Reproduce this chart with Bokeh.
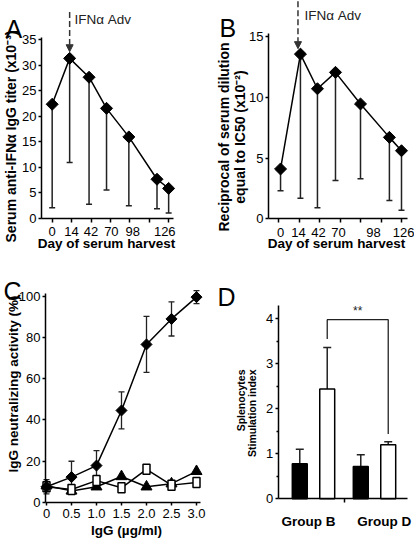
import math
from bokeh.plotting import figure
from bokeh.layouts import column, row
from bokeh.models import (ColumnDataSource, Range1d, FixedTicker, Whisker, TeeHead,
                          Label, Arrow, NormalHead)
from bokeh.embed import file_html
from bokeh.resources import INLINE

FONT = "Liberation Sans"

# ---------------- data ----------------
# Panel A: serum anti-IFNa IgG titer (x10^-3)
a_slot = [0, 0.9, 1.9, 2.8, 3.95, 5.4, 6.0]
a_titer = [22.3, 31.3, 27.6, 21.5, 15.9, 7.6, 5.8]
a_lower = [2.0, 10.9, 2.7, 5.5, 2.4, 1.8, 1.0]
day_labels = ["0", "14", "42", "70", "98", "126"]
a_label_slot = [0.0, 1.0, 2.0, 3.05, 4.15, 5.8]
a_arrow = dict(x=0.9, start=40.4, end=32.6)

# Panel B: reciprocal of serum dilution equal to IC50 (x10^-2)
b_slot = [0.1, 1.07, 1.9, 2.78, 4.0, 5.41, 6.0]
b_recip = [4.1, 13.55, 10.7, 12.05, 9.45, 6.7, 5.6]
b_lower = [2.3, 1.7, 0.9, 3.15, 3.3, 1.5, 0.7]
b_label_slot = [0.1, 0.98, 1.95, 2.93, 4.63, 6.1]
b_arrow = dict(x=0.95, start=17.9, end=14.0)

axis_slots = [0, 1, 2, 3, 4, 5, 6]

# Panel C: IgG neutralizing activity (%)
c_igg = [0, 0.5, 1.0, 1.5, 2.0, 2.5, 3.0]
c_tick_labels = ["0", "0.5", "1.0", "1.5", "2.0", "2.5", "3.0"]
c_diamond = [7.5, 12.2, 17.8, 44.6, 76.7, 89.1, 99.7]
c_diamond_err = [3.5, 7.7, 7.3, 9.0, 13.6, 8.3, 3.2]
c_triangle = [8.0, 5.5, 7.5, 12.5, 7.5, 9.0, 15.0]
c_square = [7.5, 6.2, 10.5, 7.0, 16.0, 8.3, 9.6]

# Panel D: splenocytes stimulation index
d_groups = ["Group B", "Group D"]
d_group_center = [0.0, 1.0]
d_group_label_pos = [-0.08, 1.16]
d_offsets = [-0.225, 0.225]
d_black = [0.78, 0.72]
d_black_err = [1.10, 0.98]
d_white = [2.44, 1.20]
d_white_err = [3.36, 1.27]
d_bracket_top = 3.98
d_bracket_left_bottom = 3.55
d_bracket_right_bottom = 1.44


def panel(w, h, origin, xmap, ymap):
    """Figure whose frame fills the canvas; xmap/ymap give two (data, page-pixel) pairs."""
    ox, oy = origin
    (xa, pxa), (xb, pxb) = xmap
    (ya, pya), (yb, pyb) = ymap
    sx = (xb - xa) / (pxb - pxa)
    sy = (yb - ya) / (pyb - pya)

    def at(px, py):
        return xa + (px - pxa) * sx, ya + (py - pya) * sy

    x0, ytop = at(ox, oy)
    x1, ybot = at(ox + w, oy + h)
    p = figure(width=w, height=h, x_range=Range1d(x0, x1), y_range=Range1d(ybot, ytop),
               output_backend="svg", toolbar_location=None, tools="", min_border=0)
    p.outline_line_color = None
    p.grid.grid_line_color = None
    for ax in p.axis:
        ax.axis_line_width = 1.5
        ax.axis_line_color = "black"
        ax.major_tick_line_width = 1.5
        ax.major_tick_line_color = "black"
        ax.minor_tick_line_width = 1.5
        ax.minor_tick_line_color = "black"
        ax.major_tick_in = 0
        ax.major_tick_out = 3
        ax.minor_tick_in = 0
        ax.minor_tick_out = 0
        ax.major_label_text_font = FONT
        ax.major_label_text_font_size = "13px"
        ax.major_label_text_color = "black"
        ax.major_label_standoff = 2
    return p, at


def text(p, at, px, py, s, size="13.5px", bold=True, angle=0.0, align="center",
         baseline="middle", color="black"):
    x, y = at(px, py)
    p.add_layout(Label(x=x, y=y, text=s, angle=angle, text_font=FONT, text_font_size=size,
                       text_font_style="bold" if bold else "normal", text_align=align,
                       text_baseline=baseline, text_color=color))


def axes_at(p, xloc, yloc, xbounds, ybounds):
    p.yaxis.fixed_location = xloc
    p.xaxis.fixed_location = yloc
    p.xaxis.bounds = xbounds
    p.yaxis.bounds = ybounds


def diamonds(p, x, y, src, size):
    p.scatter(x, y, source=src, marker="square", angle=math.pi / 4, size=size,
              fill_color="black", line_color="black")


def time_series(p, slots, vals, lowers, label_slots, arrow):
    p.xaxis.ticker = FixedTicker(ticks=label_slots, minor_ticks=axis_slots)
    p.xaxis.major_label_overrides = {float(s): l for s, l in zip(label_slots, day_labels)}
    p.xaxis.major_tick_out = 0
    p.xaxis.minor_tick_out = 4
    p.xaxis.major_label_standoff = 5
    src = ColumnDataSource(dict(x=slots, y=vals, lo=lowers))
    p.add_layout(Whisker(base="x", upper="y", lower="lo", source=src, dimension="height",
                         line_color="#222222", line_width=1.5, upper_head=None,
                         lower_head=TeeHead(size=6, line_color="#222222", line_width=1.5)))
    p.line("x", "y", source=src, line_color="black", line_width=1.5)
    diamonds(p, "x", "y", src, 8.5)
    p.add_layout(Arrow(x_start=arrow["x"], y_start=arrow["start"], x_end=arrow["x"],
                       y_end=arrow["end"], line_dash="6 3", line_width=1.5,
                       line_color="#333333",
                       end=NormalHead(size=7, fill_color="#333333", line_color="#333333")))


UP = math.pi / 2

# ---------------- Panel A ----------------
pa, at_a = panel(207, 270, (0, 0), [(-0.55, 41), (6.25, 173)], [(0, 217.5), (35, 39)])
axes_at(pa, -0.55, 0, (-0.55, 6.25), (0, 35.3))
pa.yaxis.ticker = FixedTicker(ticks=[0, 5, 10, 15, 20, 25, 30, 35])
time_series(pa, a_slot, a_titer, a_lower, a_label_slot, a_arrow)
text(pa, at_a, 5, 28, "A", size="25px", bold=False, align="left", baseline="alphabetic")
text(pa, at_a, 74, 19, "IFN\u03b1 Adv", bold=False, align="left", color="#222222")
text(pa, at_a, 10.5, 136, "Serum anti-IFN\u03b1 IgG titer (x10\u207b\u00b3)", size="14px",
     angle=UP)
text(pa, at_a, 106, 243, "Day of serum harvest")

# ---------------- Panel B ----------------
pb, at_b = panel(207, 270, (207, 0), [(0, 278), (6, 401)], [(0, 218.3), (15, 36)])
axes_at(pb, -0.49, 0, (-0.49, 6.3), (0, 15.25))
pb.yaxis.ticker = FixedTicker(ticks=[0, 5, 10, 15])
time_series(pb, b_slot, b_recip, b_lower, b_label_slot, b_arrow)
text(pb, at_b, 219, 27, "B", size="25px", bold=False, align="left", baseline="alphabetic")
text(pb, at_b, 304, 15, "IFN\u03b1 Adv", bold=False, align="left", color="#222222")
text(pb, at_b, 223.5, 136.5, "Reciprocal of serum dilution", size="14px", angle=UP)
text(pb, at_b, 239, 136.5, "equal to IC50 (x10\u207b\u00b2)", size="14px", angle=UP)
text(pb, at_b, 336, 243, "Day of serum harvest")

# ---------------- Panel C ----------------
pc, at_c = panel(207, 270, (0, 270), [(0, 46), (3.0, 196)], [(0, 501.7), (100, 296)])
axes_at(pc, -0.02, 0, (-0.02, 3.08), (0, 101.3))
pc.xaxis.ticker = FixedTicker(ticks=c_igg)
pc.xaxis.major_label_overrides = {float(v): l for v, l in zip(c_igg, c_tick_labels)}
pc.xaxis.major_label_standoff = 4
pc.yaxis.ticker = FixedTicker(ticks=[0, 20, 40, 60, 80, 100])
csrc = ColumnDataSource(dict(x=c_igg, d=c_diamond,
                             dlo=[v - e for v, e in zip(c_diamond, c_diamond_err)],
                             dhi=[v + e for v, e in zip(c_diamond, c_diamond_err)],
                             t=c_triangle, s=c_square))
pc.add_layout(Whisker(base="x", upper="dhi", lower="dlo", source=csrc, dimension="height",
                      line_color="#222222", line_width=1.3,
                      upper_head=TeeHead(size=6, line_color="#222222", line_width=1.3),
                      lower_head=TeeHead(size=6, line_color="#222222", line_width=1.3)))
pc.line("x", "t", source=csrc, line_color="black", line_width=1.5)
pc.line("x", "s", source=csrc, line_color="black", line_width=1.5)
pc.line("x", "d", source=csrc, line_color="black", line_width=1.5)
pc.scatter("x", "t", source=csrc, marker="triangle", size=11, fill_color="black",
           line_color="black")
pc.rect("x", "s", width=7, height=10, width_units="screen", height_units="screen",
        source=csrc, fill_color="white", line_color="black", line_width=1.5)
diamonds(pc, "x", "d", csrc, 7.8)
text(pc, at_c, 3, 290, "C", size="25px", bold=False, align="left", baseline="alphabetic")
text(pc, at_c, 12.5, 383.5, "IgG neutralizing activity (%)", angle=UP)
text(pc, at_c, 126, 530, "IgG (\u00b5g/ml)")

# ---------------- Panel D ----------------
pd_, at_d = panel(207, 270, (207, 270), [(0, 313), (1, 374)], [(0, 498.3), (4, 318.3)])
axes_at(pd_, -0.58, 0, (-0.58, 1.54), (0, 4.3))
pd_.xaxis.ticker = FixedTicker(ticks=d_group_label_pos, minor_ticks=[0.5])
pd_.xaxis.major_label_overrides = {float(v): l for v, l in zip(d_group_label_pos, d_groups)}
pd_.xaxis.major_tick_out = 0
pd_.xaxis.minor_tick_out = 4
pd_.xaxis.major_label_text_font_style = "bold"
pd_.xaxis.major_label_text_font_size = "13.5px"
pd_.xaxis.major_label_standoff = 11
pd_.yaxis.ticker = FixedTicker(ticks=[0, 1, 2, 3, 4], minor_ticks=[0.5, 1.5, 2.5, 3.5])
pd_.yaxis.minor_tick_out = 2

bx = [c + d_offsets[0] for c in d_group_center]
wx = [c + d_offsets[1] for c in d_group_center]
bsrc = ColumnDataSource(dict(x=bx, top=d_black, err=d_black_err))
wsrc = ColumnDataSource(dict(x=wx, top=d_white, err=d_white_err))
for src in (bsrc, wsrc):
    pd_.add_layout(Whisker(base="x", upper="err", lower="top", source=src, dimension="height",
                           line_color="#222222", line_width=1.5, lower_head=None,
                           upper_head=TeeHead(size=8, line_color="#222222", line_width=1.5)))
pd_.vbar(x="x", top="top", width=0.245, source=bsrc, fill_color="black", line_color="black",
         line_width=1.5)
pd_.vbar(x="x", top="top", width=0.245, source=wsrc, fill_color="white", line_color="black",
         line_width=1.5)
pd_.line([wx[0], wx[0], wx[1], wx[1]],
         [d_bracket_left_bottom, d_bracket_top, d_bracket_top, d_bracket_right_bottom],
         line_color="#222222", line_width=1.3)
pd_.add_layout(Label(x=(wx[0] + wx[1]) / 2, y=d_bracket_top + 0.04, text="**",
                     text_font=FONT, text_font_size="12px", text_align="center",
                     text_baseline="bottom", text_color="#222222"))
text(pd_, at_d, 217, 296, "D", size="25px", bold=False, align="left", baseline="alphabetic")
text(pd_, at_d, 240, 369, "Splenocytes", size="10.5px", angle=UP, align="right")
text(pd_, at_d, 251.5, 369, "Stimulation index", size="10.5px", angle=UP, align="right")

layout = column(row(pa, pb), row(pc, pd_))
open("out.html", "w").write(file_html(layout, INLINE))
